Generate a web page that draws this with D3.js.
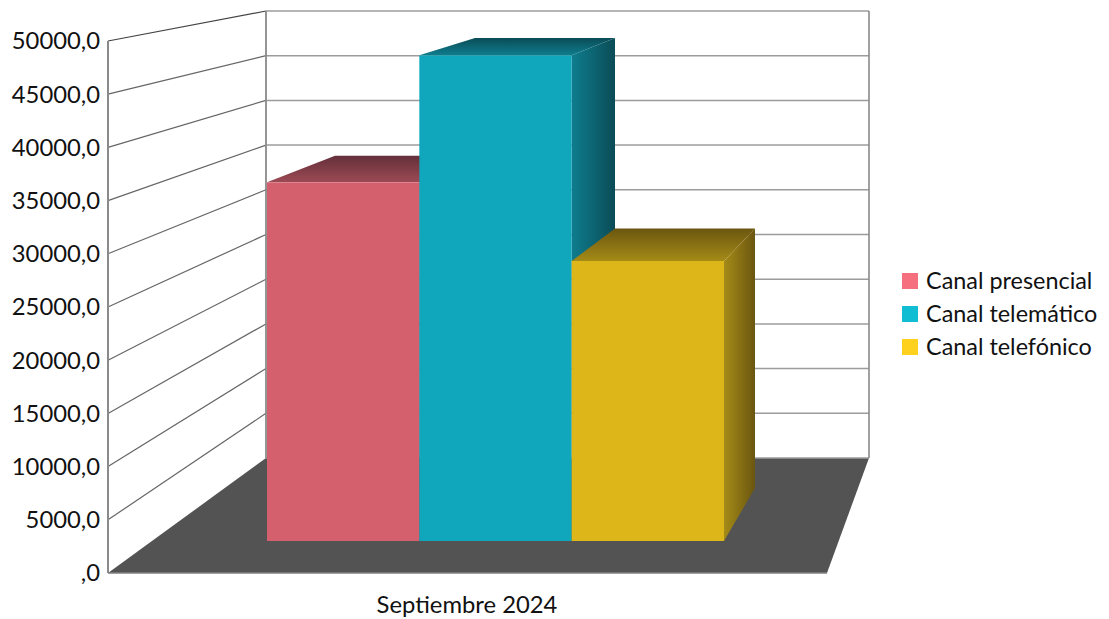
<!DOCTYPE html>
<html><head><meta charset="utf-8">
<script src="https://cdn.jsdelivr.net/npm/d3@7/dist/d3.min.js"></script>
<style>html,body{margin:0;background:#fff}svg{display:block}text{font-family:Lato,"Open Sans",sans-serif;fill:#111}</style>
</head><body><div id="c"></div>
<script>
const category = "Septiembre 2024";
const seriesNames = ["Canal presencial","Canal telemático","Canal telefónico"];
const seriesValues = [35300,47800,27560];
const tickValues = [0,5000,10000,15000,20000,25000,30000,35000,40000,45000,50000];
const tickLabels = [",0","5000,0","10000,0","15000,0","20000,0","25000,0","30000,0","35000,0","40000,0","45000,0","50000,0"];
const legendColors = ["#f66f7e","#10bdd3","#fdd11e"];
const frontColors = ["#d4606d","#10a6bb","#ddb61a"];
const midColors = ["#9c4a54","#0e7d8e","#a58b17"];
const darkColors = ["#64303a","#0b4c57","#6b5610"];

const W=1109,H=619;
const svg=d3.select("#c").append("svg").attr("width",W).attr("height",H);
const defs=svg.append("defs");
const domain=[0,50000];
// wall scales
const yFront=d3.scaleLinear().domain(domain).range([573,41]);
const yBack=d3.scaleLinear().domain(domain).range([458,11]);
const xL=108,xLB=266,xR=827,xRB=869;
const line=(x1,y1,x2,y2,c,w)=>svg.append("line").attr("x1",x1).attr("y1",y1).attr("x2",x2).attr("y2",y2).attr("stroke",c).attr("stroke-width",w);

// floor
svg.append("polygon").attr("points",[[xL,yFront(0)],[xR,yFront(0)],[xRB,yBack(0)],[xLB,yBack(0)]].join(" ")).attr("fill","#535353");
// grid
tickValues.forEach(v=>{
  if(v>0) line(xL,yFront(v),xLB,yBack(v),v===50000?"#444":"#666",1.2);
  if(v>0) line(xLB,yBack(v),xRB,yBack(v),"#9c9c9c",1.5);
});
line(xLB,yBack(0),xRB,yBack(0),"#9c9c9c",1.5);
line(xL,yFront(0),xL,yFront(50000),"#8a8a8a",2);
line(xLB,yBack(0),xLB,yBack(50000),"#8a8a8a",1.8);
line(xRB,yBack(0),xRB,yBack(50000),"#8a8a8a",1.6);
line(xL,yFront(0),xR,yFront(0),"#808080",1.5);

// bars
const bandF=d3.scaleBand().domain(seriesNames).range([267,724]);
const bandB=d3.scaleBand().domain(seriesNames).range([335,755]);
const baseF=541,baseB=488;
const hF=d3.scaleLinear().domain(domain).range([0,508]);
const hB=d3.scaleLinear().domain(domain).range([0,470.7]);
seriesNames.forEach((n,i)=>{
  const g1=defs.append("linearGradient").attr("id","top"+i).attr("x1",0).attr("y1",0).attr("x2",0).attr("y2",1);
  g1.append("stop").attr("offset",0).attr("stop-color",darkColors[i]);
  g1.append("stop").attr("offset",1).attr("stop-color",midColors[i]);
  const g2=defs.append("linearGradient").attr("id","side"+i).attr("x1",0).attr("y1",0).attr("x2",1).attr("y2",0);
  g2.append("stop").attr("offset",0).attr("stop-color",midColors[i]);
  g2.append("stop").attr("offset",1).attr("stop-color",darkColors[i]);
});
seriesNames.forEach((n,i)=>{
  const v=seriesValues[i];
  const fl=bandF(n),fr=fl+bandF.bandwidth(),bl=bandB(n),br=bl+bandB.bandwidth();
  const ft=baseF-hF(v),bt=baseB-hB(v);
  svg.append("polygon").attr("points",[[fr,baseF],[br,baseB],[br,bt],[fr,ft]].join(" ")).attr("fill",`url(#side${i})`);
  svg.append("polygon").attr("points",[[fl,ft],[fr,ft],[br,bt],[bl,bt]].join(" ")).attr("fill",`url(#top${i})`);
  svg.append("rect").attr("x",fl).attr("y",ft).attr("width",fr-fl).attr("height",baseF-ft).attr("fill",frontColors[i]);
});

// tick labels
tickValues.forEach((v,i)=>{
  svg.append("text").attr("x",100).attr("y",yFront(v)).attr("dy","0.35em").attr("text-anchor","end").attr("font-size",23.8).text(tickLabels[i]);
});
svg.append("text").attr("x",467).attr("y",605).attr("dy","0.35em").attr("text-anchor","middle").attr("font-size",23.8).text(category);

// legend
const yLeg=d3.scalePoint().domain(seriesNames).range([281,347]);
seriesNames.forEach((n,i)=>{
  svg.append("rect").attr("x",902).attr("y",yLeg(n)-8).attr("width",16).attr("height",16).attr("fill",legendColors[i]);
  svg.append("text").attr("x",926).attr("y",yLeg(n)).attr("dy","0.35em").attr("font-size",23.4).text(n);
});
</script></body></html>
